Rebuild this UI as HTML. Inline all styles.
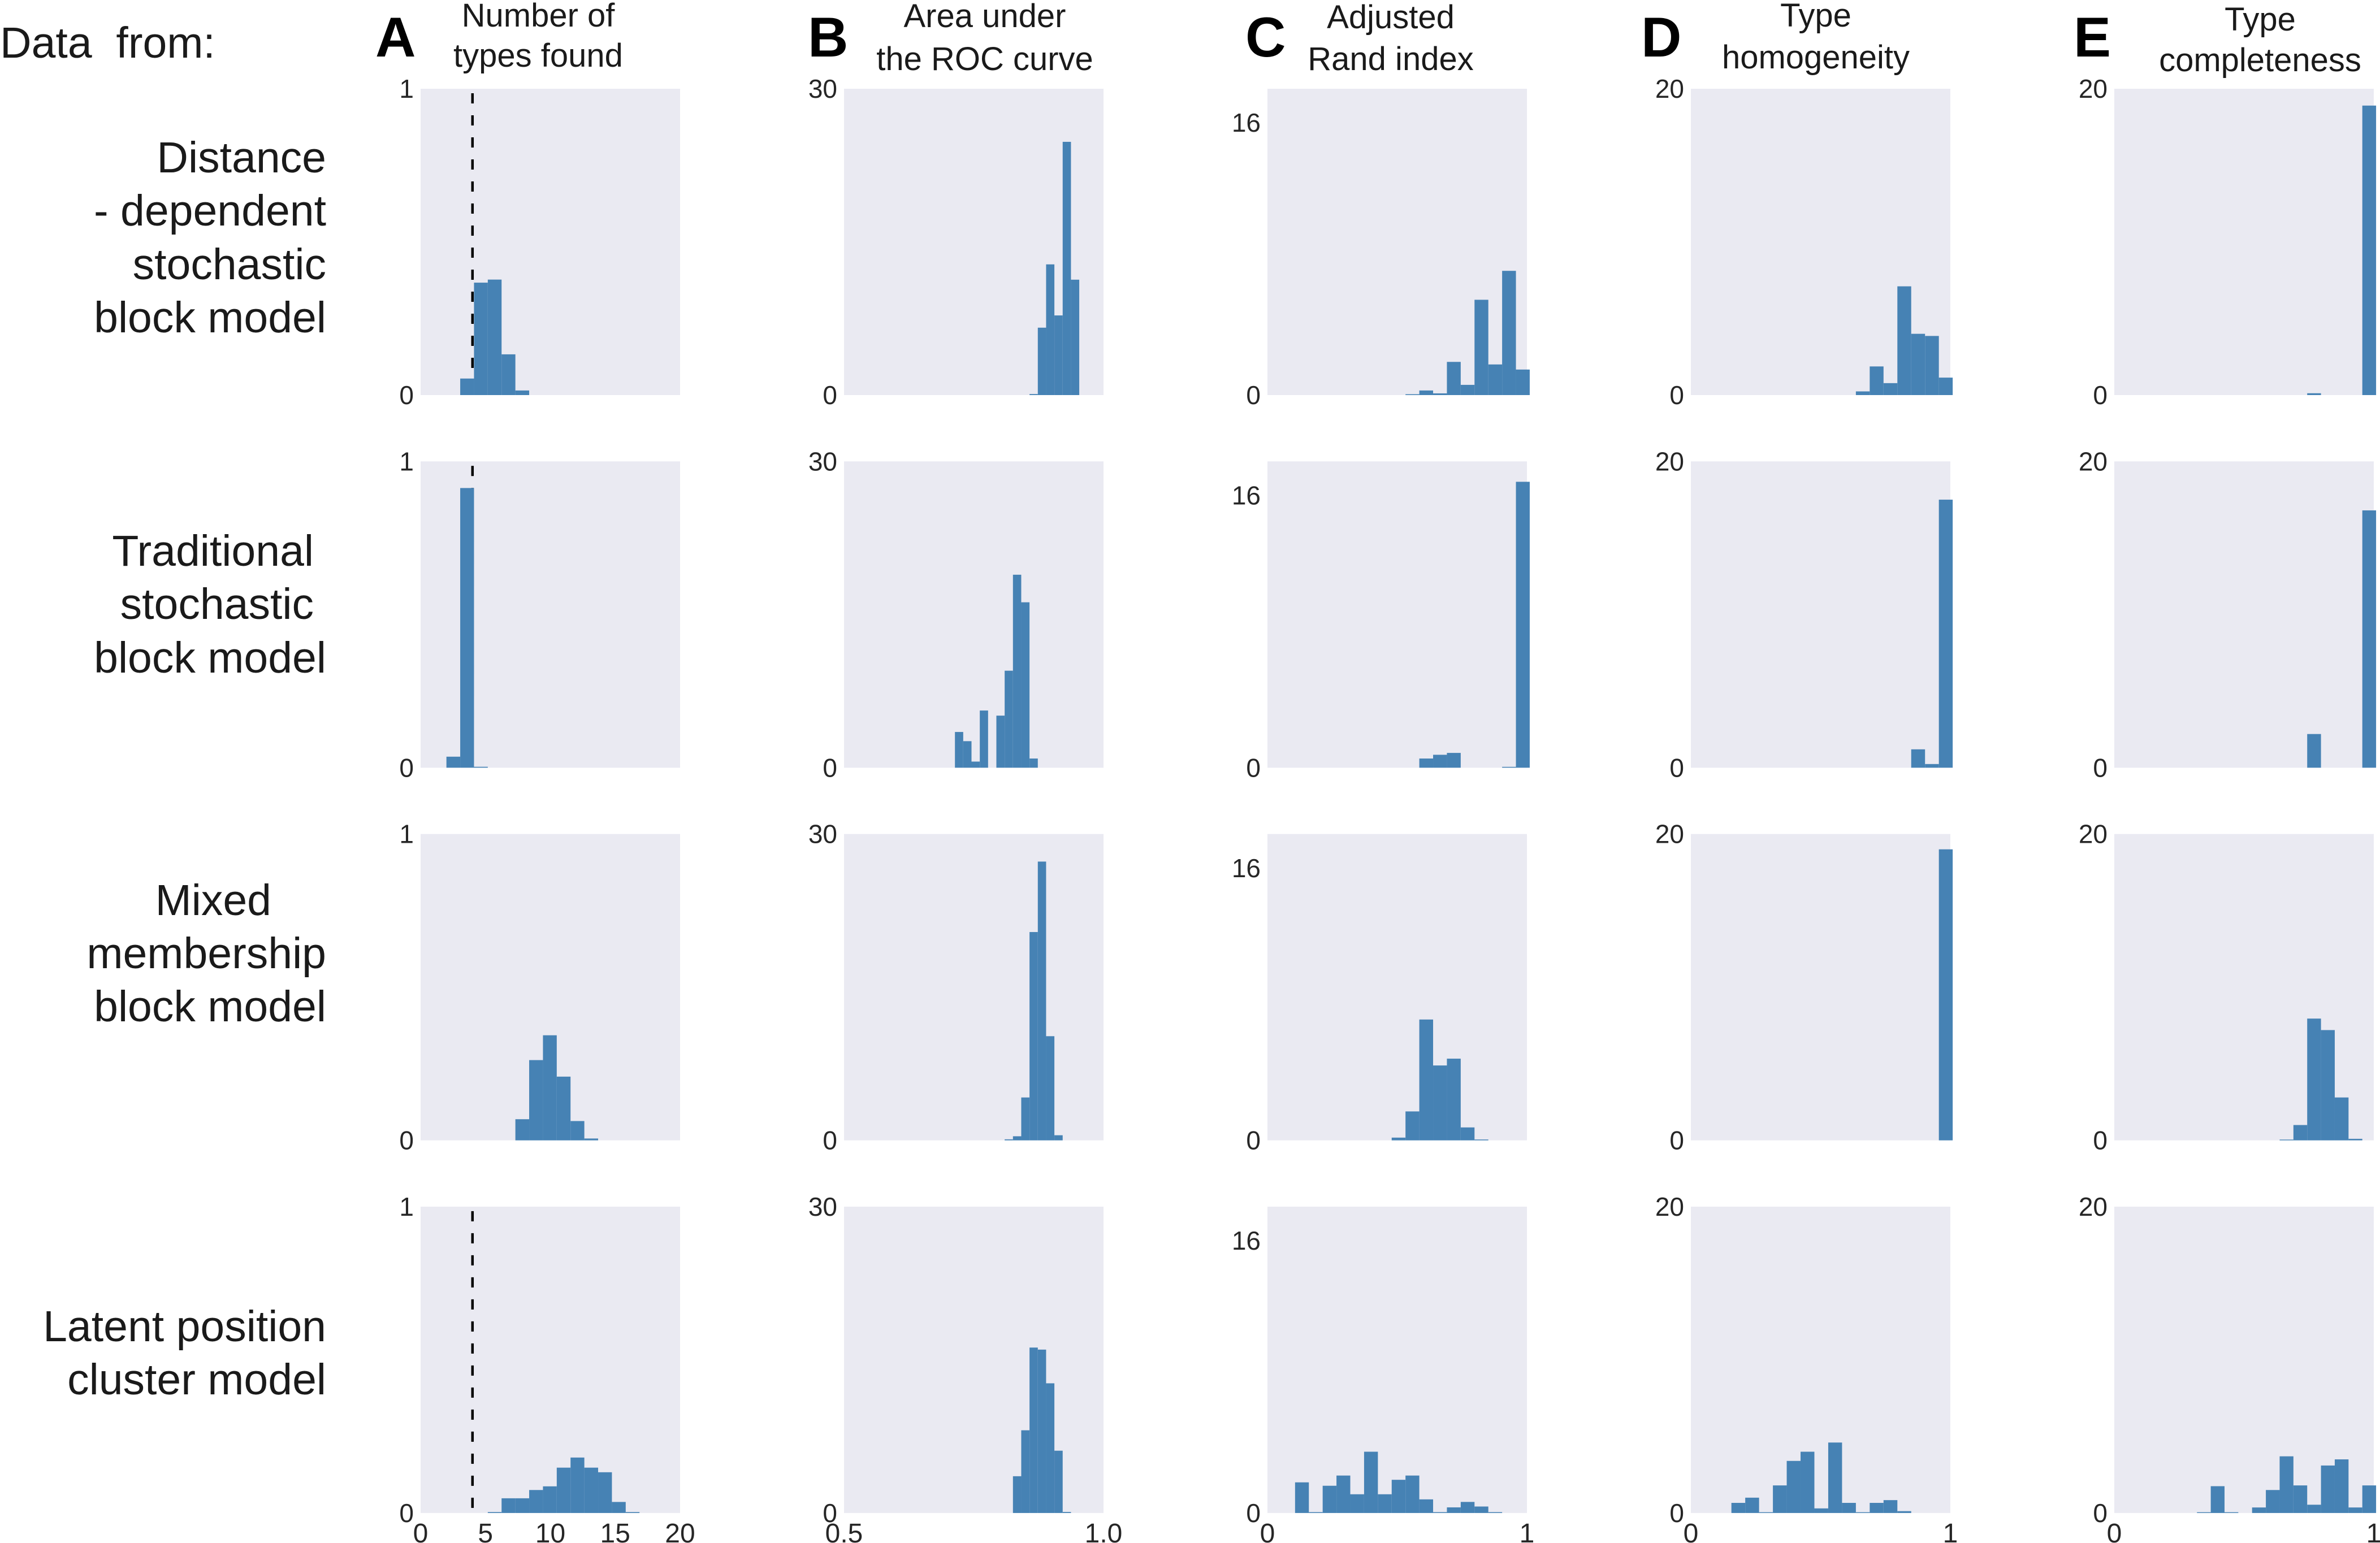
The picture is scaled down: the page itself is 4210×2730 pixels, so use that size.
<!DOCTYPE html>
<html><head><meta charset="utf-8"><style>
html,body{margin:0;padding:0;background:#fff;}
svg{display:block;font-family:"Liberation Sans",Arial,sans-serif;}
.pre{white-space:pre;}
</style></head><body>
<svg id="fig" width="4210" height="2730" viewBox="0 0 4210 2730" xmlns="http://www.w3.org/2000/svg">
<g id="labels" fill="#1a1a1a">
  <text class="pre" xml:space="preserve" x="0" y="102" font-size="77">Data  from:</text>
  <g text-anchor="end" font-size="77">
    <text x="577" y="305">Distance</text>
    <text x="577" y="399">- dependent</text>
    <text x="577" y="494">stochastic</text>
    <text x="577" y="588">block model</text>
    <text x="555" y="1001">Traditional</text>
    <text x="555" y="1095">stochastic</text>
    <text x="577" y="1190">block model</text>
    <text x="480" y="1619">Mixed</text>
    <text x="577" y="1713">membership</text>
    <text x="577" y="1807">block model</text>
    <text x="577" y="2373">Latent position</text>
    <text x="577" y="2467">cluster model</text>
  </g>
  <g font-weight="bold" font-size="99" fill="#000">
    <text x="664" y="100">A</text>
    <text x="1429" y="100">B</text>
    <text x="2203" y="100">C</text>
    <text x="2903" y="100">D</text>
    <text x="3668" y="100">E</text>
  </g>
  <g text-anchor="middle" font-size="58">
    <text x="952" y="47">Number of</text>
    <text x="952" y="118">types found</text>
    <text x="1742" y="48">Area under</text>
    <text x="1742" y="124">the ROC curve</text>
    <text x="2460" y="50">Adjusted</text>
    <text x="2460" y="124">Rand index</text>
    <text x="3212" y="47">Type</text>
    <text x="3212" y="121">homogeneity</text>
    <text x="3998" y="54">Type</text>
    <text x="3998" y="126">completeness</text>
  </g>
</g>
<g id="panels"></g>
</svg>
<script>
// ---- data (bin counts per panel, indexed from bin 0) ----
const aRow1 = [0, 0.054, 0.367, 0.377, 0.133, 0.015];
const aRow2 = [0.036, 0.913, 0.003];
const aRow3 = [0, 0, 0, 0, 0, 0.069, 0.262, 0.343, 0.208, 0.063, 0.006];
const aRow4 = [0, 0, 0, 0.003, 0.048, 0.048, 0.075, 0.087, 0.148, 0.181, 0.148, 0.133, 0.036, 0.003];
const bRow1 = [0,0,0,0,0,0,0,0,0,0,0,0,0,0,0,0,0,0,0,0,0,0, 0.1, 6.6, 12.8, 7.8, 24.8, 11.3];
const bRow2 = [0,0,0,0,0,0,0,0,0,0,0,0,0, 3.5, 2.6, 0.6, 5.6, 0, 5.1, 9.5, 18.9, 16.2, 0.9];
const bRow3 = [0,0,0,0,0,0,0,0,0,0,0,0,0,0,0,0,0,0,0, 0.1, 0.4, 4.2, 20.4, 27.3, 10.2, 0.5];
const bRow4 = [0,0,0,0,0,0,0,0,0,0,0,0,0,0,0,0,0,0,0,0, 3.6, 8.1, 16.2, 16.0, 12.7, 6.1, 0.1];
const cRow1 = [0,0,0,0,0,0,0,0,0,0, 0.05, 0.27, 0.1, 1.95, 0.6, 5.6, 1.8, 7.3, 1.5];
const cRow2 = [0,0,0,0,0,0,0,0,0,0,0, 0.54, 0.76, 0.87, 0, 0, 0, 0.05, 16.8];
const cRow3 = [0,0,0,0,0,0,0,0,0, 0.16, 1.7, 7.1, 4.4, 4.8, 0.76, 0.05];
const cRow4 = [0,0, 1.8, 0.05, 1.6, 2.2, 1.1, 3.6, 1.1, 1.95, 2.2, 0.8, 0.05, 0.33, 0.65, 0.38, 0.05];
const dRow1 = [0,0,0,0,0,0,0,0,0,0,0,0, 0.24, 1.87, 0.78, 7.1, 4.0, 3.86, 1.14];
const dRow2 = [0,0,0,0,0,0,0,0,0,0,0,0,0,0,0,0, 1.2, 0.24, 17.5];
const dRow3 = [0,0,0,0,0,0,0,0,0,0,0,0,0,0,0,0,0,0, 19.0];
const dRow4 = [0,0,0, 0.66, 1.0, 0.05, 1.8, 3.4, 4.0, 0.3, 4.6, 0.66, 0.05, 0.66, 0.84, 0.12];
const eRow1 = [0,0,0,0,0,0,0,0,0,0,0,0,0,0, 0.12, 0, 0, 0, 18.9];
const eRow2 = [0,0,0,0,0,0,0,0,0,0,0,0,0,0, 2.2, 0, 0, 0, 16.8];
const eRow3 = [0,0,0,0,0,0,0,0,0,0,0,0, 0.05, 1.0, 7.95, 7.2, 2.8, 0.1];
const eRow4 = [0,0,0,0,0,0, 0.05, 1.75, 0.05, 0, 0.36, 1.5, 3.7, 1.8, 0.54, 3.1, 3.5, 0.36, 1.8];
// column axis settings
const xDomains = [[0, 20], [0.5, 1.0], [0, 1], [0, 1], [0, 1]];
const binStarts = [1.99, 0.5061, 0, -0.0037, 0];
const binWidths = [1.063, 0.01597, 0.0532, 0.0533, 0.0531];
const yMaxes = [1, 30, 18, 20, 20];
const yTickValues = [[0, 1], [0, 30], [0, 16], [0, 20], [0, 20]];
const yTickLabels = [["0", "1"], ["0", "30"], ["0", "16"], ["0", "20"], ["0", "20"]];
const xTickValues = [[0, 5, 10, 15, 20], [0.5, 1.0], [0, 1], [0, 1], [0, 1]];
const xTickLabels = [["0", "5", "10", "15", "20"], ["0.5", "1.0"], ["0", "1"], ["0", "1"], ["0", "1"]];
const trueTypes = [4, 4, null, 4];
const colNames = ["a", "b", "c", "d", "e"];
const grid = [
  [aRow1, aRow2, aRow3, aRow4],
  [bRow1, bRow2, bRow3, bRow4],
  [cRow1, cRow2, cRow3, cRow4],
  [dRow1, dRow2, dRow3, dRow4],
  [eRow1, eRow2, eRow3, eRow4]
];

const NS = "http://www.w3.org/2000/svg";
const PL = 744, PSTEP = 749, PW = 459, PT = 157, RSTEP = 659.3, PH = 542;
const root = document.getElementById("panels");
function mk(tag, attrs, parent) {
  const e = document.createElementNS(NS, tag);
  for (const k in attrs) e.setAttribute(k, attrs[k]);
  parent.appendChild(e);
  return e;
}
for (let c = 0; c < 5; c++) {
  for (let r = 0; r < 4; r++) {
    const left = PL + PSTEP * c, top = PT + RSTEP * r, bottom = top + PH;
    const xd = xDomains[c];
    const xs = v => left + (v - xd[0]) / (xd[1] - xd[0]) * PW;
    const ys = v => bottom - v / yMaxes[c] * PH;
    const g = mk("g", {}, root);
    
    
    const bg = mk("rect", {x: left, y: top, width: PW, height: PH, fill: "#eaeaf2"}, g);
    
    
    if (c === 0 && trueTypes[r] !== null) {
      const dl = mk("line", {x1: xs(trueTypes[r]), x2: xs(trueTypes[r]), y1: top + 8, y2: ys(0) - 8, stroke: "#000", "stroke-width": 4.5, "stroke-dasharray": "18 21"}, g);
      
      
    }
    const vals = grid[c][r];
    for (let k = 0; k < vals.length; k++) {
      if (!vals[k]) continue;
      const x0 = xs(binStarts[c] + k * binWidths[c]);
      const x1 = xs(binStarts[c] + (k + 1) * binWidths[c]);
      const y = ys(vals[k]);
      const b = mk("rect", {x: x0, y: y, width: Math.max(0, x1 - x0), height: bottom - y, fill: "#4682b4"}, g);
      
      
    }
    const yt = yTickValues[c];
    for (let i = 0; i < yt.length; i++) {
      const t = mk("text", {x: left - 12, y: ys(yt[i]), "text-anchor": "end", "dominant-baseline": "central", "font-size": 46, fill: "#262626"}, g);
      t.textContent = yTickLabels[c][i];
      
      
    }
    if (r === 3) {
      const xt = xTickValues[c];
      for (let i = 0; i < xt.length; i++) {
        const t = mk("text", {x: xs(xt[i]), y: 2729, "text-anchor": "middle", "font-size": 48, fill: "#262626"}, g);
        t.textContent = xTickLabels[c][i];
        
        
      }
    }
  }
}
</script>
</body></html>
